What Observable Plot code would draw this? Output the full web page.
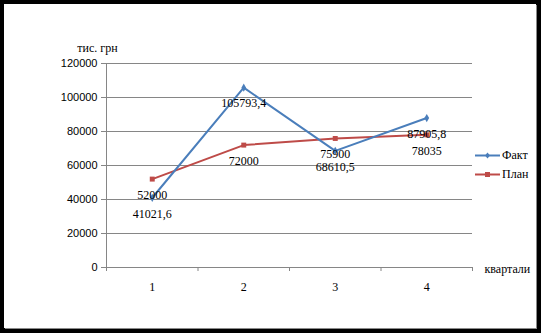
<!DOCTYPE html>
<html>
<head>
<meta charset="utf-8">
<script src="https://cdn.jsdelivr.net/npm/d3@7"></script>
<script src="https://cdn.jsdelivr.net/npm/@observablehq/plot@0.6"></script>
<style>
  html, body { margin: 0; padding: 0; background: #000; }
  #wrap { position: relative; width: 541px; height: 333px; background: #000; }
  #chart { position: absolute; left: 4px; top: 4px; width: 532px; height: 324px; background: #fff; box-shadow: 1px 1px 0 #8a8a8a; }
  #chart svg { display: block; background: #fff; }
  .leg { position: absolute; left: 475px; font: 12px "Liberation Serif", "Times New Roman", serif; color: #000; display: flex; align-items: center; }
  .leg svg { display: block; margin-right: 2px; }
</style>
</head>
<body>
<div id="wrap"><div id="chart"></div></div>
<script>
const quarters = [1, 2, 3, 4];
const fact = [41021.6, 105793.4, 68610.5, 87905.8];
const plan = [52000, 72000, 75900, 78035];
const yTicks = [0, 20000, 40000, 60000, 80000, 100000, 120000];
const seriesNames = ["Факт", "План"];
const colors = ["#4A7EBB", "#BE4B48"];
const yLabel = "тис. грн";
const xLabel = "квартали";

const rows = [];
quarters.forEach((q, i) => {
  rows.push({q, v: fact[i], s: seriesNames[0]});
  rows.push({q, v: plan[i], s: seriesNames[1]});
});
const boundaries = [0.5, ...quarters.map(q => q + 0.5)];
const fmt = v => String(v).replace(".", ",");
const serif = "Liberation Serif";
const sans = "Liberation Sans";
const grid = "#868686";

const chart = Plot.plot({
  width: 532,
  height: 324,
  marginLeft: 102,
  marginRight: 64,
  marginTop: 59,
  marginBottom: 61,
  style: {background: "#fff", fontFamily: sans, fontSize: "11px", color: "#000"},
  x: {type: "linear", domain: [0.5, 4.5]},
  y: {domain: [0, 120000]},
  marks: [
    Plot.ruleY(yTicks.slice(1), {stroke: grid, strokeWidth: 1}),
    Plot.ruleX([0.5], {y1: 0, y2: 120000, stroke: grid}),
    Plot.ruleY([0], {stroke: grid}),
    Plot.axisY({ticks: yTicks, tickSize: 5, tickPadding: 4, label: null, stroke: grid, fontSize: 11, fontFamily: sans, fill: "#000", tickFormat: d => String(d)}),
    Plot.axisX({ticks: boundaries, tickSize: 4, tickFormat: () => "", label: null, stroke: grid}),
    Plot.axisX({ticks: quarters, tickSize: 0, tickPadding: 15, label: null, fontSize: 12, fontFamily: serif, fill: "#000", tickFormat: d => String(d)}),
    Plot.line(rows.filter(d => d.s === seriesNames[1]), {x: "q", y: "v", stroke: colors[1], strokeWidth: 2}),
    Plot.line(rows.filter(d => d.s === seriesNames[0]), {x: "q", y: "v", stroke: colors[0], strokeWidth: 2}),
    Plot.dot(rows.filter(d => d.s === seriesNames[1]), {x: "q", y: "v", symbol: "square", r: 2.8, fill: colors[1], stroke: "none"}),
    Plot.dot(rows.filter(d => d.s === seriesNames[0]), {x: "q", y: "v", symbol: "diamond", r: 2.5, fill: colors[0], stroke: "none"}),
    Plot.text(rows, {x: "q", y: "v", text: d => fmt(d.v), dy: 16, fontSize: 12, fontFamily: serif, fill: "#000"}),
    Plot.text([yLabel], {frameAnchor: "top-left", textAnchor: "middle", dx: -9, dy: -20, fontSize: 12, fontFamily: serif, fill: "#000"}),
    Plot.text([xLabel], {frameAnchor: "bottom-right", textAnchor: "start", dx: 12, dy: 5, fontSize: 12, fontFamily: serif, fill: "#000"})
  ]
});
document.getElementById("chart").appendChild(chart);

const wrap = document.getElementById("wrap");
const symbols = ["diamond", "square"];
seriesNames.forEach((name, i) => {
  const item = document.createElement("div");
  item.className = "leg";
  item.style.top = (i === 0 ? 148 : 167) + "px";
  const marker = symbols[i] === "diamond"
    ? `<path d="M12.5,1.5 L15,4.5 L12.5,7.5 L10,4.5 Z" fill="${colors[i]}"/>`
    : `<rect x="10" y="2" width="5" height="5" fill="${colors[i]}"/>`;
  item.innerHTML = `<svg width="25" height="9"><line x1="0" x2="25" y1="4.5" y2="4.5" stroke="${colors[i]}" stroke-width="2"/>${marker}</svg><span>${name}</span>`;
  wrap.appendChild(item);
});
</script>
</body>
</html>
